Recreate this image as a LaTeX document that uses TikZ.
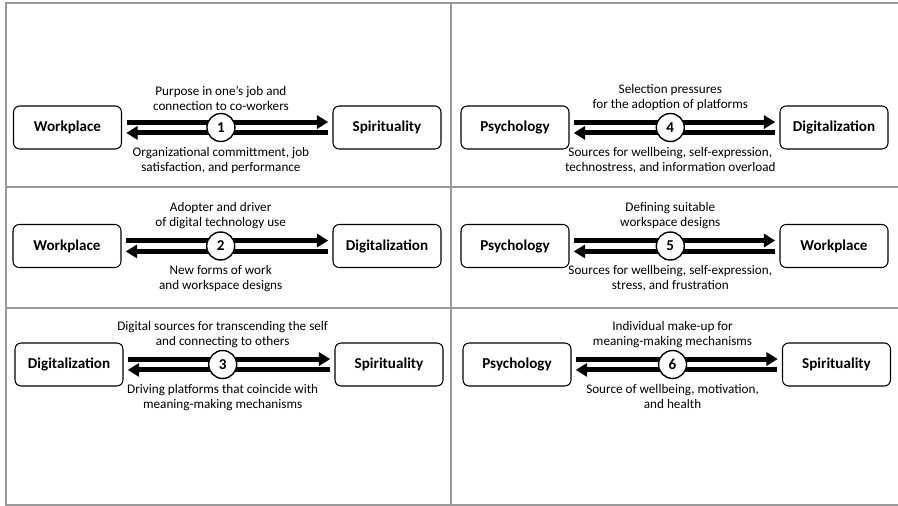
\documentclass[tikz,border=0pt]{standalone}
\usepackage{fontspec}
\setmainfont{Carlito}
\usetikzlibrary{arrows.meta,calc,positioning}

\tikzset{
  topic/.style={draw, rounded corners=3.5pt, line width=0.6pt, minimum width=2.16cm, minimum height=0.86cm, inner sep=0pt, font=\fontsize{8.6}{10}\selectfont\bfseries},
  link/.style={line width=2.8pt, -{Triangle[length=6.5pt,width=7.5pt]}, shorten <=2.6pt, shorten >=2.4pt},
  num/.style={circle, draw, fill=white, line width=0.8pt, minimum size=0.56cm, inner sep=0pt, font=\fontsize{8.6}{10}\selectfont\bfseries},
  note/.style={align=center, inner sep=1pt, font=\fontsize{7.5}{8.6}\selectfont},
  frame/.style={draw=black!40, line width=0.7pt}
}

\begin{document}
\begin{tikzpicture}[x=0.02cm, y=-0.02cm]
  \useasboundingbox (0,0) rectangle (898,506);
  %%Grid
  \draw[frame] (898,3) -- (6,3) -- (6,505) -- (898,505);
  \draw[frame] (451,3) -- (451,505);
  \draw[frame] (6,187) -- (898,187) (6,308) -- (898,308);

  %%Panel_1
  \node[topic] (wp1) at (67.5,127.5) {Workplace};
  \node[topic] (sp1) at (387,127.5) {Spirituality};
  \draw[link] ([yshift=-3.1pt]sp1.west) -- ([yshift=-3.1pt]wp1.east);
  \draw[link] ([yshift=3.1pt]wp1.east) -- ([yshift=3.1pt]sp1.west);
  \node[num] (n1) at ($(wp1.east)!0.47!(sp1.west)$) {1};
  \node[note, above=0pt of n1] {Purpose in one’s job and\\connection to co-workers};
  \node[note, below=1.5pt of n1] {Organizational committment, job\\satisfaction, and performance};

  %%Panel_2
  \node[topic] (wp2) at (67,246) {Workplace};
  \node[topic] (dg2) at (387,246) {Digitalization};
  \draw[link] ([yshift=-3.1pt]dg2.west) -- ([yshift=-3.1pt]wp2.east);
  \draw[link] ([yshift=3.1pt]wp2.east) -- ([yshift=3.1pt]dg2.west);
  \node[num] (n2) at ($(wp2.east)!0.47!(dg2.west)$) {2};
  \node[note, above=0pt of n2] {Adopter and driver\\of digital technology use};
  \node[note, below=1.5pt of n2] {New forms of work\\and workspace designs};

  %%Panel_3
  \node[topic] (dg3) at (69,364.5) {Digitalization};
  \node[topic] (sp3) at (389,364.5) {Spirituality};
  \draw[link] ([yshift=-3.1pt]sp3.west) -- ([yshift=-3.1pt]dg3.east);
  \draw[link] ([yshift=3.1pt]dg3.east) -- ([yshift=3.1pt]sp3.west);
  \node[num] (n3) at ($(dg3.east)!0.47!(sp3.west)$) {3};
  \node[note, above=0pt of n3] {Digital sources for transcending the self\\and connecting to others};
  \node[note, below=1.5pt of n3] {Driving platforms that coincide with\\meaning-making mechanisms};

  %%Panel_4
  \node[topic] (ps4) at (515,127.5) {Psychology};
  \node[topic] (dg4) at (834,127.5) {Digitalization};
  \draw[link] ([yshift=-3.1pt]dg4.west) -- ([yshift=-3.1pt]ps4.east);
  \draw[link] ([yshift=3.1pt]ps4.east) -- ([yshift=3.1pt]dg4.west);
  \node[num] (n4) at ($(ps4.east)!0.48!(dg4.west)$) {4};
  \node[note, above=0pt of n4] {Selection pressures\\for the adoption of platforms};
  \node[note, below=1.5pt of n4] {Sources for wellbeing, self-expression,\\technostress, and information overload};

  %%Panel_5
  \node[topic] (ps5) at (515,246) {Psychology};
  \node[topic] (wp5) at (834,246) {Workplace};
  \draw[link] ([yshift=-3.1pt]wp5.west) -- ([yshift=-3.1pt]ps5.east);
  \draw[link] ([yshift=3.1pt]ps5.east) -- ([yshift=3.1pt]wp5.west);
  \node[num] (n5) at ($(ps5.east)!0.48!(wp5.west)$) {5};
  \node[note, above=0pt of n5] {Defining suitable\\workspace designs};
  \node[note, below=1.5pt of n5] {Sources for wellbeing, self-expression,\\stress, and frustration};

  %%Panel_6
  \node[topic] (ps6) at (517,364.5) {Psychology};
  \node[topic] (sp6) at (836.5,364.5) {Spirituality};
  \draw[link] ([yshift=-3.1pt]sp6.west) -- ([yshift=-3.1pt]ps6.east);
  \draw[link] ([yshift=3.1pt]ps6.east) -- ([yshift=3.1pt]sp6.west);
  \node[num] (n6) at ($(ps6.east)!0.48!(sp6.west)$) {6};
  \node[note, above=0pt of n6] {Individual make-up for\\meaning-making mechanisms};
  \node[note, below=1.5pt of n6] {Source of wellbeing, motivation,\\and health};
\end{tikzpicture}
\end{document}
